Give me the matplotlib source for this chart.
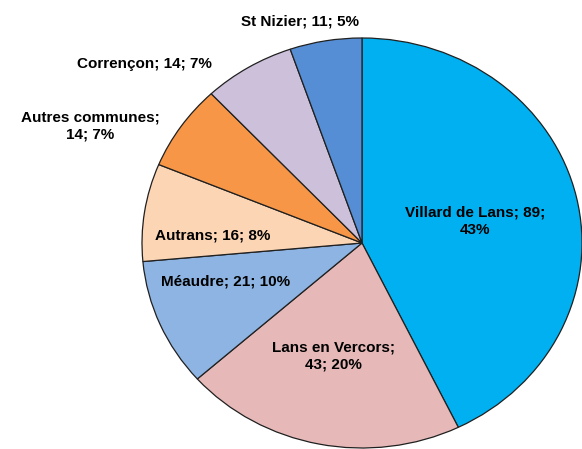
import matplotlib.pyplot as plt

communes = ['Villard de Lans', 'Lans en Vercors', 'Méaudre', 'Autrans',
            'Autres communes', 'Corrençon', 'St Nizier']
effectifs = [89, 43, 21, 16, 14, 14, 11]
pourcents = [43, 20, 10, 8, 7, 7, 5]
couleurs = ['#00B0F0', '#E6B9B8', '#8DB4E2', '#FCD5B5',
            '#F79646', '#CCC0DA', '#558ED5']

# label placement in pixels (x, y from top) and where the line breaks
positions = [(475, 221), (333, 356), (226, 281), (213, 235),
             (90, 126), (144, 64), (300, 22)]
coupures = [2, 1, 0, 0, 1, 0, 0]

W, H = 582, 449
cx, cy = 362, 243      # pie centre in pixels
rx, ry = 220, 205      # the original pie is slightly squashed

fig = plt.figure(figsize=(W / 100, H / 100), dpi=100)
ax = fig.add_axes([0, 0, 1, 1])

ax.pie(effectifs, colors=couleurs, startangle=90, counterclock=False,
       wedgeprops=dict(edgecolor='#202020', linewidth=0.9))
ax.set_aspect('auto')
ax.set_xlim(-cx / rx, (W - cx) / rx)
ax.set_ylim(-(H - cy) / ry, cy / ry)
ax.axis('off')

for nom, n, p, (x, y), c in zip(communes, effectifs, pourcents, positions, coupures):
    parts = [nom, str(n), f'{p}%']
    if c == 0:
        txt = '; '.join(parts)
    elif c == 1:
        txt = parts[0] + ';\n' + parts[1] + '; ' + parts[2]
    else:
        txt = parts[0] + '; ' + parts[1] + ';\n' + parts[2]
    fig.text(x / W, 1 - y / H, txt, ha='center', va='center',
             multialignment='center', fontsize=11, fontweight='bold',
             family='Liberation Sans', linespacing=1.3, color='black')

fig.savefig('out.png', dpi=100)
